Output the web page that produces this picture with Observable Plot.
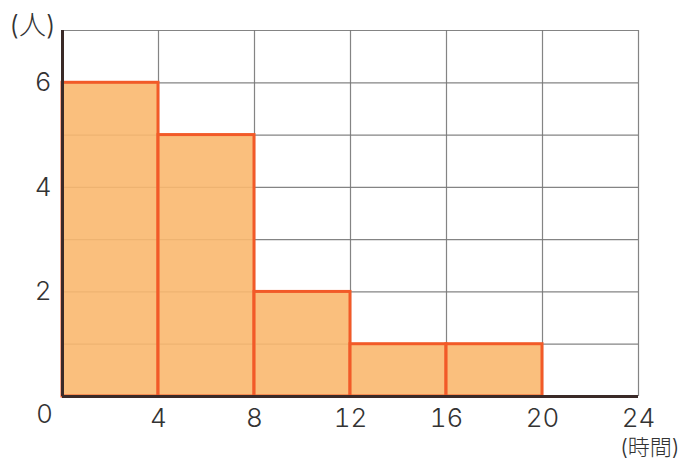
<!DOCTYPE html>
<html><head><meta charset="utf-8">
<script src="https://cdn.jsdelivr.net/npm/d3@7"></script>
<script src="https://cdn.jsdelivr.net/npm/@observablehq/plot@0.6"></script>
<style>body{margin:0;background:#fff}</style>
</head><body><div id="chart"></div>
<script>
const binStart = [0, 4, 8, 12, 16];
const binEnd = [4, 8, 12, 16, 20];
const counts = [6, 5, 2, 1, 1];
const xTicks = [4, 8, 12, 16, 20, 24];
const yTicks = [2, 4, 6];
const yLabel = "(人)";
const xLabel = "(時間)";

const bars = binStart.map((s, i) => ({x1: s, x2: binEnd[i], y: counts[i]}));
const font = "Inter, 'Noto Sans CJK JP', sans-serif";

const chart = Plot.plot({
  width: 684, height: 460,
  marginLeft: 62, marginRight: 46, marginTop: 30, marginBottom: 64,
  style: {fontFamily: font, fontSize: "26px", color: "#333", background: "#fff", fontWeight: 300},
  x: {domain: [0, 24], label: null},
  y: {domain: [0, 7], label: null},
  marks: [
    Plot.gridX(d3.range(4, 25, 4), {stroke: "#777", strokeOpacity: 0.9, strokeWidth: 1.2}),
    Plot.gridY(d3.range(1, 8), {stroke: "#777", strokeOpacity: 0.9, strokeWidth: 1.2}),
    Plot.rectY(bars, {x1: "x1", x2: "x2", y: "y", fill: "#FAB86F", fillOpacity: 0.9, stroke: "#F25A28", strokeWidth: 3}),
    Plot.ruleX([0], {stroke: "#3a2a28", strokeWidth: 3}),
    Plot.ruleY([0], {stroke: "#3a2a28", strokeWidth: 3}),
    Plot.axisX(xTicks, {tickSize: 0, tickPadding: 12, fontSize: 26, fill: "#333", label: null, tickFormat: d => String(d)}),
    Plot.axisY(yTicks, {tickSize: 0, tickPadding: 11, fontSize: 26, fill: "#333", label: null, tickFormat: d => String(d)}),
    Plot.text(["0"], {x: 0, y: 0, dx: -18, dy: 18, fontSize: 26, fill: "#333"}),
    Plot.text([yLabel], {x: 0, y: 7, dx: -30, dy: -4, fontSize: 27, fill: "#333"}),
    Plot.text([xLabel], {x: 24, y: 0, dx: 41, dy: 51, textAnchor: "end", fontSize: 22, fill: "#333"})
  ]
});
document.getElementById("chart").appendChild(chart);
</script>
</body></html>
